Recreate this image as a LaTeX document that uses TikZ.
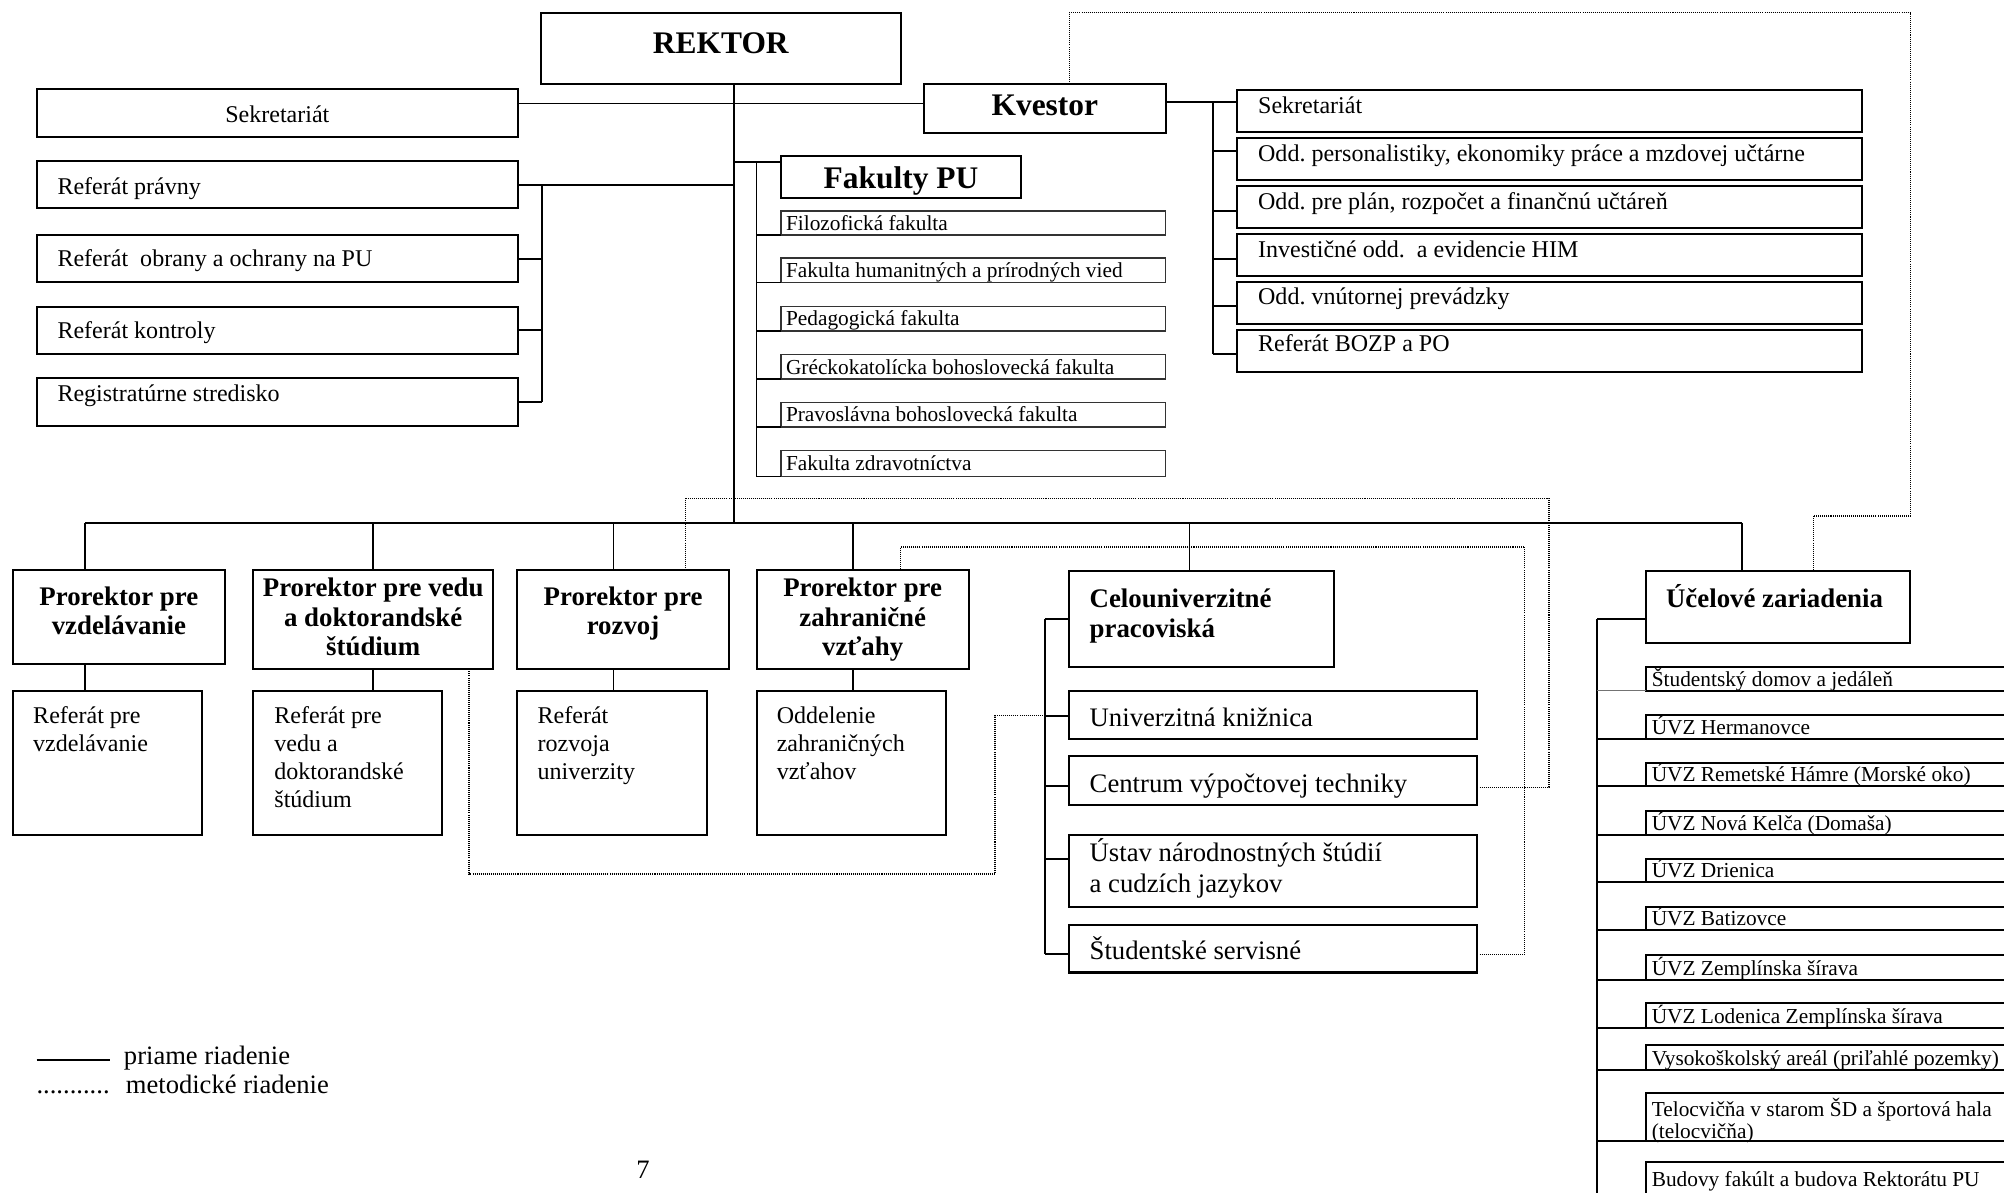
\documentclass[tikz,border=0pt]{standalone}
\usepackage{fontspec}
\setmainfont{Liberation Serif}
\usetikzlibrary{calc}
\frenchspacing
\newcommand\ml[2]{\begin{tabular}[t]{@{}#1@{}}#2\end{tabular}}
\newcommand\mkbox[6]{\node[#1, anchor=north west, minimum width={(#5-#3)*1pt}, minimum height={(#6-#4)*1pt}] (#2) at (#3,#4) {};}
\tikzset{
  box/.style={draw, line width=1.6pt, inner sep=0pt, outer sep=0pt},
  lbox/.style={draw=black!80, line width=1.1pt, inner sep=0pt, outer sep=0pt},
  conn/.style={line width=1.5pt},
  tconn/.style={line width=1.1pt},
  barline/.style={line width=1.8pt},
  dotl/.style={line width=1.1pt, dash pattern=on 0.8pt off 0.8pt},
  T/.style={inner sep=0pt, outer sep=0pt, anchor=base west, font=\fontsize{18.8}{22}\selectfont},
  Tc/.style={T, anchor=base},
  S/.style={inner sep=0pt, outer sep=0pt, anchor=base west, font=\fontsize{16.7}{17}\selectfont},
  H/.style={inner sep=0pt, outer sep=0pt, anchor=base, font=\bfseries\fontsize{21}{23}\selectfont},
  Hl/.style={H, anchor=base west, font=\bfseries\fontsize{21}{24}\selectfont},
  B/.style={inner sep=0pt, outer sep=0pt, anchor=base, font=\bfseries\fontsize{24.6}{28}\selectfont},
  C/.style={inner sep=0pt, outer sep=0pt, anchor=base west, font=\fontsize{20.9}{24.3}\selectfont},
  L/.style={inner sep=0pt, outer sep=0pt, anchor=base west, font=\fontsize{20.8}{24}\selectfont}
}
\begin{document}
\begin{tikzpicture}[x=1pt,y=-1pt]
\useasboundingbox (0,0) rectangle (1568,933);
\fill[white] (0,0) rectangle (1568,933);
\clip (0,0) rectangle (1568,933);

% ---------- boxes ----------
\mkbox{box}{rek}{423}{10}{705}{66}
\mkbox{box}{sekL}{29}{70}{405}{107}
\mkbox{box}{rpr}{29}{126}{405}{163}
\mkbox{box}{rob}{29}{184}{405}{221}
\mkbox{box}{rko}{29}{240}{405}{277}
\mkbox{box}{rreg}{29}{296}{405}{333}
\mkbox{box}{kv}{723}{66}{912}{104}
\mkbox{box}{fak}{611}{122}{799}{155}
\mkbox{lbox}{f1}{611}{165}{912}{184}
\mkbox{lbox}{f2}{611}{202}{912}{221}
\mkbox{lbox}{f3}{611}{240}{912}{259}
\mkbox{lbox}{f4}{611}{277.5}{912}{296.6}
\mkbox{lbox}{f5}{611}{315}{912}{334}
\mkbox{lbox}{f6}{611}{352.6}{912}{373}
\mkbox{box}{q1}{968}{70.7}{1457}{103.6}
\mkbox{box}{q2}{968}{108.3}{1457}{141.1}
\mkbox{box}{q3}{968}{145.8}{1457}{178.4}
\mkbox{box}{q4}{968}{183}{1457}{216.3}
\mkbox{box}{q5}{968}{220.6}{1457}{253.5}
\mkbox{box}{q6}{968}{258.2}{1457}{291}
\mkbox{box}{pv}{10}{446}{175.7}{519.5}
\mkbox{box}{pvd}{198}{446}{386}{523.7}
\mkbox{box}{pr}{404.7}{446}{570.4}{523.7}
\mkbox{box}{pz}{592.4}{446}{758}{523.7}
\mkbox{box}{s1}{10}{540.4}{158}{653}
\mkbox{box}{s2}{198}{540.4}{346}{653}
\mkbox{box}{s3}{404.7}{540.4}{553}{653}
\mkbox{box}{s4}{592.4}{540.4}{740}{653}
\mkbox{box}{cel}{836.6}{446.6}{1043.5}{522}
\mkbox{box}{uk}{836.6}{540.7}{1156}{578.3}
\mkbox{box}{cvt}{836.6}{591.8}{1156}{629.5}
\mkbox{box}{ust}{836.6}{653.4}{1156}{709.3}
\mkbox{box}{ss}{836.6}{723.8}{1156}{760.9}
\mkbox{box}{uz}{1287.5}{446.6}{1494.5}{502.9}
\mkbox{box}{u1}{1287.5}{522}{1600}{540.6}
\mkbox{box}{u2}{1287.5}{559.6}{1600}{578.3}
\mkbox{box}{u3}{1287.5}{597}{1600}{615.3}
\mkbox{box}{u4}{1287.5}{634.5}{1600}{653}
\mkbox{box}{u5}{1287.5}{672}{1600}{690.3}
\mkbox{box}{u6}{1287.5}{709.5}{1600}{727.7}
\mkbox{box}{u7}{1287.5}{747}{1600}{767}
\mkbox{box}{u8}{1287.5}{784.5}{1600}{804.5}
\mkbox{box}{u9}{1287.5}{817.7}{1600}{837}
\mkbox{box}{u10}{1287.5}{855}{1600}{892.8}
\mkbox{box}{u11}{1287.5}{909}{1600}{960}

% ---------- texts ----------
\node[B] (trek) at (564,41.7) {REKTOR};
\node[B] (tkv) at (817.5,90.4) {Kvestor};
\node[B] (tfak) at (705,147.4) {Fakulty PU};

\node[Tc] (tsekL) at (217,96) {Sekretariát};
\node[T] (trpr) at (45,151.8) {Referát právny};
\node[T] (trob) at (45,208.7) {Referát\ \ obrany a ochrany na PU};
\node[T] (trko) at (45,265) {Referát kontroly};
\node[T] (trreg) at (45,314.3) {Registratúrne stredisko};

\node[S] (tf1) at (615,180) {Filozofická fakulta};
\node[S] (tf2) at (615,217.3) {Fakulta humanitných a prírodných vied};
\node[S] (tf3) at (615,255) {Pedagogická fakulta};
\node[S] (tf4) at (615,292.7) {Gréckokatolícka bohoslovecká fakulta};
\node[S] (tf5) at (615,330) {Pravoslávna bohoslovecká fakulta};
\node[S] (tf6) at (615,367.8) {Fakulta zdravotníctva};

\node[T] (tq1) at (984.4,89) {Sekretariát};
\node[T] (tq2) at (984.4,126.6) {Odd. personalistiky, ekonomiky práce a mzdovej učtárne};
\node[T] (tq3) at (984.4,163.9) {Odd. pre plán, rozpočet a finančnú učtáreň};
\node[T] (tq4) at (984.4,201.4) {Investičné odd.\ \ a evidencie HIM};
\node[T] (tq5) at (984.4,238.4) {Odd. vnútornej prevádzky};
\node[T] (tq6) at (984.4,275.4) {Referát BOZP a PO};

\node[H] (tpv) at (93,473.4) {\ml{c}{Prorektor pre\\vzdelávanie}};
\node[H] (tpvd) at (292,466.9) {\ml{c}{Prorektor pre vedu\\a doktorandské\\štúdium}};
\node[H] (tpr) at (487.5,473.4) {\ml{c}{Prorektor pre\\rozvoj}};
\node[H] (tpz) at (675,466.9) {\ml{c}{Prorektor pre\\zahraničné\\vzťahy}};

\node[T] (ts1) at (26,566) {\ml{l}{Referát pre\\vzdelávanie}};
\node[T] (ts2) at (214.7,566) {\ml{l}{Referát pre\\vedu a\\doktorandské\\štúdium}};
\node[T] (ts3) at (420.7,566) {\ml{l}{Referát\\rozvoja\\univerzity}};
\node[T] (ts4) at (607.8,566) {\ml{l}{Oddelenie\\zahraničných\\vzťahov}};

\node[Hl] (tcel) at (852.6,475) {\ml{l}{Celouniverzitné\\pracoviská}};
\node[C] (tuk) at (852.6,568.2) {Univerzitná knižnica};
\node[C] (tcvt) at (852.6,620) {Centrum výpočtovej techniky};
\node[C] (tust) at (852.6,674) {\ml{l}{Ústav národnostných štúdií\\a cudzích jazykov}};
\node[C] (tss) at (852.6,750.9) {Študentské servisné};

\node[Hl] (tuz) at (1303.6,475) {Účelové zariadenia};
\node[S] (tu1) at (1292.4,537) {Študentský domov a jedáleň};
\node[S] (tu2) at (1292.4,574.8) {ÚVZ Hermanovce};
\node[S] (tu3) at (1292.4,611.8) {ÚVZ Remetské Hámre (Morské oko)};
\node[S] (tu4) at (1292.4,649.5) {ÚVZ Nová Kelča (Domaša)};
\node[S] (tu5) at (1292.4,686.8) {ÚVZ Drienica};
\node[S] (tu6) at (1292.4,724.2) {ÚVZ Batizovce};
\node[S] (tu7) at (1292.4,763.5) {ÚVZ Zemplínska šírava};
\node[S] (tu8) at (1292.4,801) {ÚVZ Lodenica Zemplínska šírava};
\node[S] (tu9) at (1292.4,833.5) {Vysokoškolský areál (priľahlé pozemky)};
\node[S] (tu10) at (1292.4,873.8) {\ml{l}{Telocvičňa v starom ŠD a športová hala\\(telocvičňa)}};
\node[S] (tu11) at (1292.4,928.5) {Budovy fakúlt a budova Rektorátu PU};

% legend and page number
\coordinate (lg1) at (28.6,829.5);
\coordinate (lg2) at (86.3,829.5);
\draw[line width=1.2pt] (lg1) -- (lg2);
\node[L] (tlg1) at (97,833) {priame riadenie};
\node[L] (tdots) at (28.6,855.5) {...........};
\node[L] (tlg2) at (98.5,855.5) {metodické riadenie};
\node[L] (tpage) at (498,922) {7};

% ---------- solid connectors ----------
\coordinate (trk) at (574,409);
\draw[conn] (rek.south -| trk) -- (trk);
\draw[conn] (sekL.east |- 0,81) -- (kv.west |- 0,81);
\draw[conn] (rpr.east) -- (rpr.east -| trk);
\coordinate (lb) at (424,145);
\draw[conn] (rpr.east -| lb) -- (rreg.east -| lb);
\foreach \n in {rob,rko,rreg} \draw[conn] (\n.east) -- (\n.east -| lb);

\draw[conn] (trk |- 0,127) -- (fak.west |- 0,127);
\coordinate (fb) at (592,127);
\draw[tconn] (fb) -- (fb |- f6.south);
\foreach \n in {f1,f2,f3,f4,f5,f6} \draw[tconn] (\n.south west -| fb) -- (\n.south west);

\coordinate (kb) at (949,80);
\draw[conn] (kv.east |- kb) -- (q1.west |- kb);
\draw[conn] (kb) -- (kb |- 0,276.8);
\foreach \n/\y in {q2/118.4,q3/165,q4/202.3,q5/239.5,q6/276.8}
  \draw[conn] (kb |- 0,\y) -- (\n.west |- 0,\y);

\coordinate (d1) at (66.4,409);
\coordinate (d2) at (292,409);
\coordinate (d3) at (480,409);
\coordinate (d4) at (667.7,409);
\coordinate (d5) at (930.7,409);
\coordinate (d6) at (1362.7,409);
\draw[barline] (d1) -- (d6);
\foreach \d/\p/\s in {d1/pv/s1,d2/pvd/s2,d3/pr/s3,d4/pz/s4} {
  \draw[conn] (\d) -- (\d |- \p.north);
  \draw[conn] (\d |- \p.south) -- (\d |- \s.north);
}
\draw[conn] (d5) -- (d5 |- cel.north);
\draw[conn] (d6) -- (d6 |- uz.north);

\coordinate (cb) at (817.6,484);
\draw[conn] (cb) -- (cel.west |- cb);
\draw[conn] (cb) -- (cb |- 0,746.7);
\foreach \n/\y in {uk/560.4,cvt/615,ust/672,ss/746.7}
  \draw[conn] (cb |- 0,\y) -- (\n.west |- 0,\y);

\coordinate (ub) at (1249.6,484);
\draw[conn] (ub) -- (uz.west |- ub);
\draw[conn] (ub) -- (ub |- 0,960);
\draw[line width=0.8pt, black!55] (ub |- u1.south west) -- (u1.south west);
\foreach \n in {u2,u3,u4,u5,u6,u7,u8,u9,u10}
  \draw[conn] (ub |- \n.south west) -- (\n.south west);

% ---------- dotted connectors ----------
\draw[dotl] (cvt.east |- 0,616) -| (1212,390) -| (536.5,0 |- pr.north);
\draw[dotl] (ss.east |- 0,747) -| (1193,428) -| (704.6,0 |- pz.north);
\draw[dotl] (366.8,0 |- pvd.south) |- (778.5,684) |- (cb |- 0,560);
\draw[dotl] (836.6,0 |- kv.north) |- (1494.8,10) |- (1418.7,403.6) -- (1418.7,0 |- uz.north);
\end{tikzpicture}
\end{document}
